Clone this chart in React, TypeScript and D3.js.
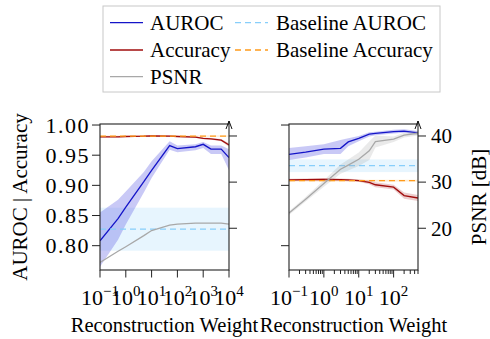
import React from 'react'
import * as d3 from 'd3'

// left panel: reconstruction weight sweep (wide range)
const leftX = [0.1, 0.5, 1, 5, 10, 50, 100, 500, 1000, 2000, 5000, 10000]
const leftAuroc = [0.808, 0.845, 0.864, 0.906, 0.925, 0.966, 0.961, 0.964, 0.968, 0.96, 0.96, 0.946]
const leftAurocLo = [0.765, 0.81, 0.835, 0.888, 0.912, 0.959, 0.955, 0.958, 0.962, 0.952, 0.952, 0.925]
const leftAurocHi = [0.855, 0.876, 0.89, 0.922, 0.94, 0.973, 0.966, 0.968, 0.972, 0.966, 0.966, 0.96]
const leftAcc = [0.9805, 0.9805, 0.981, 0.9815, 0.982, 0.9815, 0.981, 0.98, 0.978, 0.977, 0.975, 0.967]
const leftAccLo = [0.9795, 0.9795, 0.98, 0.9805, 0.981, 0.9805, 0.98, 0.979, 0.9765, 0.9755, 0.973, 0.964]
const leftAccHi = [0.9815, 0.9815, 0.982, 0.9825, 0.983, 0.9825, 0.982, 0.981, 0.9795, 0.9785, 0.977, 0.97]
const leftPsnr = [12.6, 15.0, 16.0, 18.4, 19.5, 20.7, 20.9, 21.1, 21.1, 21.1, 21.1, 20.9]
const leftBaseAuroc = 0.8276
const leftBaseAurocBand = [0.7917, 0.863]
const leftBaseAcc = 0.9817
const leftBaseAccBand = [0.9807, 0.9827]

// right panel: reconstruction weight sweep (narrow range)
const rightX = [0.1, 0.3, 1, 3, 5, 10, 20, 30, 100, 200, 500]
const rightAuroc = [0.9514, 0.955, 0.96, 0.9613, 0.972, 0.978, 0.985, 0.986, 0.989, 0.99, 0.987]
const rightAurocLo = [0.942, 0.946, 0.952, 0.952, 0.965, 0.973, 0.981, 0.983, 0.986, 0.987, 0.984]
const rightAurocHi = [0.962, 0.965, 0.968, 0.975, 0.978, 0.982, 0.988, 0.989, 0.992, 0.993, 0.99]
const rightAcc = [0.909, 0.9095, 0.91, 0.9095, 0.909, 0.908, 0.905, 0.901, 0.897, 0.883, 0.879]
const rightAccLo = [0.907, 0.9075, 0.908, 0.9075, 0.907, 0.906, 0.902, 0.897, 0.893, 0.878, 0.874]
const rightAccHi = [0.911, 0.9115, 0.912, 0.9115, 0.911, 0.91, 0.908, 0.905, 0.901, 0.888, 0.884]
const rightPsnr = [23.3, 26.3, 29.7, 32.8, 33.7, 34.95, 36.8, 38.8, 39.3, 40.2, 40.6]
const rightPsnrLo = [22.9, 25.8, 29.0, 31.8, 32.5, 33.5, 34.8, 37.5, 38.7, 39.7, 40.1]
const rightPsnrHi = [23.7, 26.8, 30.4, 33.8, 34.9, 36.4, 38.8, 40.1, 39.9, 40.7, 41.1]
const rightBaseAuroc = 0.9326
const rightBaseAurocBand = [0.922, 0.943]
const rightBaseAcc = 0.9077
const rightBaseAccBand = [0.9062, 0.9092]

const leftYTicks = [0.8, 0.85, 0.9, 0.95, 1.0]
const rightYTicks = [0.8, 0.9, 1.0]
const psnrTicks = [20, 30, 40]

const legendItems = [
  { label: 'AUROC', color: '#1414c8', dash: '' },
  { label: 'Accuracy', color: '#a00c0c', dash: '' },
  { label: 'PSNR', color: '#a8a8a8', dash: '' },
  { label: 'Baseline AUROC', color: '#87cefa', dash: '6,4' },
  { label: 'Baseline Accuracy', color: '#ff9a1a', dash: '6,4' },
]

const TOP = 124
const BOTTOM = 270

interface PanelProps {
  id: string
  x0: number
  x1: number
  domain: [number, number]
  xs: number[]
  auroc: number[]
  aurocLo: number[]
  aurocHi: number[]
  acc: number[]
  accLo: number[]
  accHi: number[]
  psnr: number[]
  psnrLo?: number[]
  psnrHi?: number[]
  baseAuroc: number
  baseAurocBand: number[]
  baseAcc: number
  baseAccBand: number[]
  yTicks: number[]
  yLabels: boolean
  psnrLabels: boolean
  minorTicks: boolean
}

const Panel = (p: PanelProps) => {
  const x = d3.scaleLog().domain(p.domain).range([p.x0, p.x1])
  const y = d3.scaleLinear().domain([0.7597, 1.0017]).range([BOTTOM, TOP])
  const yp = d3.scaleLinear().domain([10.95, 42.6]).range([BOTTOM, TOP])

  const idx = p.xs.map((_, i) => i)
  const line = (vals: number[], sc: d3.ScaleLinear<number, number>) =>
    d3.line<number>().x((i) => x(p.xs[i])).y((i) => sc(vals[i]))(idx) || ''
  const band = (lo: number[], hi: number[], sc: d3.ScaleLinear<number, number>) =>
    d3
      .area<number>()
      .x((i) => x(p.xs[i]))
      .y0((i) => sc(lo[i]))
      .y1((i) => sc(hi[i]))(idx) || ''

  const majors: number[] = []
  for (let e = Math.ceil(Math.log10(p.domain[0])); e <= Math.log10(p.domain[1]) + 1e-9; e++) majors.push(e)
  const minors = p.minorTicks
    ? x.ticks().filter((t) => Math.abs(Math.log10(t) - Math.round(Math.log10(t))) > 1e-6)
    : []

  return (
    <g>
      <defs>
        <clipPath id={p.id}>
          <rect x={p.x0} y={TOP} width={p.x1 - p.x0} height={BOTTOM - TOP} />
        </clipPath>
      </defs>
      <g clipPath={`url(#${p.id})`}>
        <rect
          x={p.x0}
          width={p.x1 - p.x0}
          y={y(p.baseAurocBand[1])}
          height={y(p.baseAurocBand[0]) - y(p.baseAurocBand[1])}
          fill="#87cefa"
          opacity={0.2}
        />
        <rect
          x={p.x0}
          width={p.x1 - p.x0}
          y={y(p.baseAccBand[1])}
          height={y(p.baseAccBand[0]) - y(p.baseAccBand[1])}
          fill="#ff9a1a"
          opacity={0.2}
        />
        <path d={band(p.aurocLo, p.aurocHi, y)} fill="#6464e6" opacity={0.35} />
        <path d={band(p.accLo, p.accHi, y)} fill="#a00c0c" opacity={0.2} />
        <path d={line(p.auroc, y)} fill="none" stroke="#1414c8" strokeWidth={1.3} />
        <path d={line(p.acc, y)} fill="none" stroke="#a00c0c" strokeWidth={1.3} />
        <line x1={p.x0} x2={p.x1} y1={y(p.baseAuroc)} y2={y(p.baseAuroc)} stroke="#87cefa" strokeWidth={1.3} strokeDasharray="6,4" />
        <line x1={p.x0} x2={p.x1} y1={y(p.baseAcc)} y2={y(p.baseAcc)} stroke="#ff9a1a" strokeWidth={1.3} strokeDasharray="6,4" />
        {p.psnrLo && p.psnrHi && <path d={band(p.psnrLo, p.psnrHi, yp)} fill="#969696" opacity={0.2} />}
        <path d={line(p.psnr, yp)} fill="none" stroke="#a8a8a8" strokeWidth={1.3} />
      </g>
      <rect x={p.x0} y={TOP} width={p.x1 - p.x0} height={BOTTOM - TOP} fill="none" stroke="#222" strokeWidth={1.1} />
      <path d={`M${p.x1},${TOP} L${p.x1},${TOP - 3} M${p.x1 - 3},${TOP + 5} L${p.x1},${TOP - 3} L${p.x1 + 3},${TOP + 5}`} fill="none" stroke="#111" strokeWidth={1} />
      {p.yTicks.map((t) => (
        <g key={t}>
          <line x1={p.x0 - 8} x2={p.x0} y1={y(t)} y2={y(t)} stroke="#222" />
          {p.yLabels && (
            <text x={p.x0 - 10} y={y(t)} dy="0.35em" textAnchor="end" fontSize={22} letterSpacing={1.5}>
              {t.toFixed(2)}
            </text>
          )}
        </g>
      ))}
      {psnrTicks.map((t) => (
        <g key={t}>
          <line x1={p.x1} x2={p.x1 + 8} y1={yp(t)} y2={yp(t)} stroke="#222" />
          {p.psnrLabels && (
            <text x={p.x1 + 13} y={yp(t)} dy="0.35em" fontSize={21}>
              {t}
            </text>
          )}
        </g>
      ))}
      {minors.map((t) => (
        <line key={t} x1={x(t)} x2={x(t)} y1={BOTTOM} y2={BOTTOM + 4} stroke="#222" />
      ))}
      {majors.map((e) => (
        <g key={e}>
          <line x1={x(Math.pow(10, e))} x2={x(Math.pow(10, e))} y1={BOTTOM} y2={BOTTOM + 7.5} stroke="#222" />
          <text x={x(Math.pow(10, e))} y={305} textAnchor="middle" fontSize={22}>
            <tspan>10</tspan>
            <tspan dy={-9} fontSize={15}>
              {e < 0 ? '\u2212' + Math.abs(e) : e}
            </tspan>
          </text>
        </g>
      ))}
      <text x={(p.x0 + p.x1) / 2} y={332} textAnchor="middle" fontSize={20.5}>
        Reconstruction Weight
      </text>
    </g>
  )
}

const Legend = () => {
  const rows = [22.7, 50, 76.7]
  const cols = [
    { lx: 110, tx: 150 },
    { lx: 235, tx: 276 },
  ]
  return (
    <g>
      <rect x={103} y={6} width={337} height={86} fill="white" stroke="#c8c8c8" strokeWidth={1} />
      {legendItems.map((it, i) => {
        const c = cols[i < 3 ? 0 : 1]
        const ry = rows[i < 3 ? i : i - 3]
        return (
          <g key={it.label}>
            <line x1={c.lx} x2={c.lx + 33} y1={ry} y2={ry} stroke={it.color} strokeWidth={1.3} strokeDasharray={it.dash || undefined} />
            <text x={c.tx} y={ry} dy="0.35em" fontSize={21}>
              {it.label}
            </text>
          </g>
        )
      })}
    </g>
  )
}

export default function App() {
  return (
    <svg
      width={490}
      height={339}
      style={{ position: 'absolute', left: 0, top: 0, background: 'white', fontFamily: "'Liberation Serif'" }}
    >
      <style>{`text, tspan { font-family: 'Liberation Serif', serif !important; }`}</style>
      <Legend />
      <Panel
        id="clipL"
        x0={100}
        x1={229}
        domain={[0.1, 10000]}
        xs={leftX}
        auroc={leftAuroc}
        aurocLo={leftAurocLo}
        aurocHi={leftAurocHi}
        acc={leftAcc}
        accLo={leftAccLo}
        accHi={leftAccHi}
        psnr={leftPsnr}
        baseAuroc={leftBaseAuroc}
        baseAurocBand={leftBaseAurocBand}
        baseAcc={leftBaseAcc}
        baseAccBand={leftBaseAccBand}
        yTicks={leftYTicks}
        yLabels={true}
        psnrLabels={false}
        minorTicks={false}
      />
      <Panel
        id="clipR"
        x0={289}
        x1={418}
        domain={[0.1, 500]}
        xs={rightX}
        auroc={rightAuroc}
        aurocLo={rightAurocLo}
        aurocHi={rightAurocHi}
        acc={rightAcc}
        accLo={rightAccLo}
        accHi={rightAccHi}
        psnr={rightPsnr}
        psnrLo={rightPsnrLo}
        psnrHi={rightPsnrHi}
        baseAuroc={rightBaseAuroc}
        baseAurocBand={rightBaseAurocBand}
        baseAcc={rightBaseAcc}
        baseAccBand={rightBaseAccBand}
        yTicks={rightYTicks}
        yLabels={false}
        psnrLabels={true}
        minorTicks={true}
      />
      <text transform="translate(27,197) rotate(-90)" textAnchor="middle" fontSize={21}>
        AUROC | Accuracy
      </text>
      <text transform="translate(486,197) rotate(-90)" textAnchor="middle" fontSize={21}>
        PSNR [dB]
      </text>
    </svg>
  )
}
